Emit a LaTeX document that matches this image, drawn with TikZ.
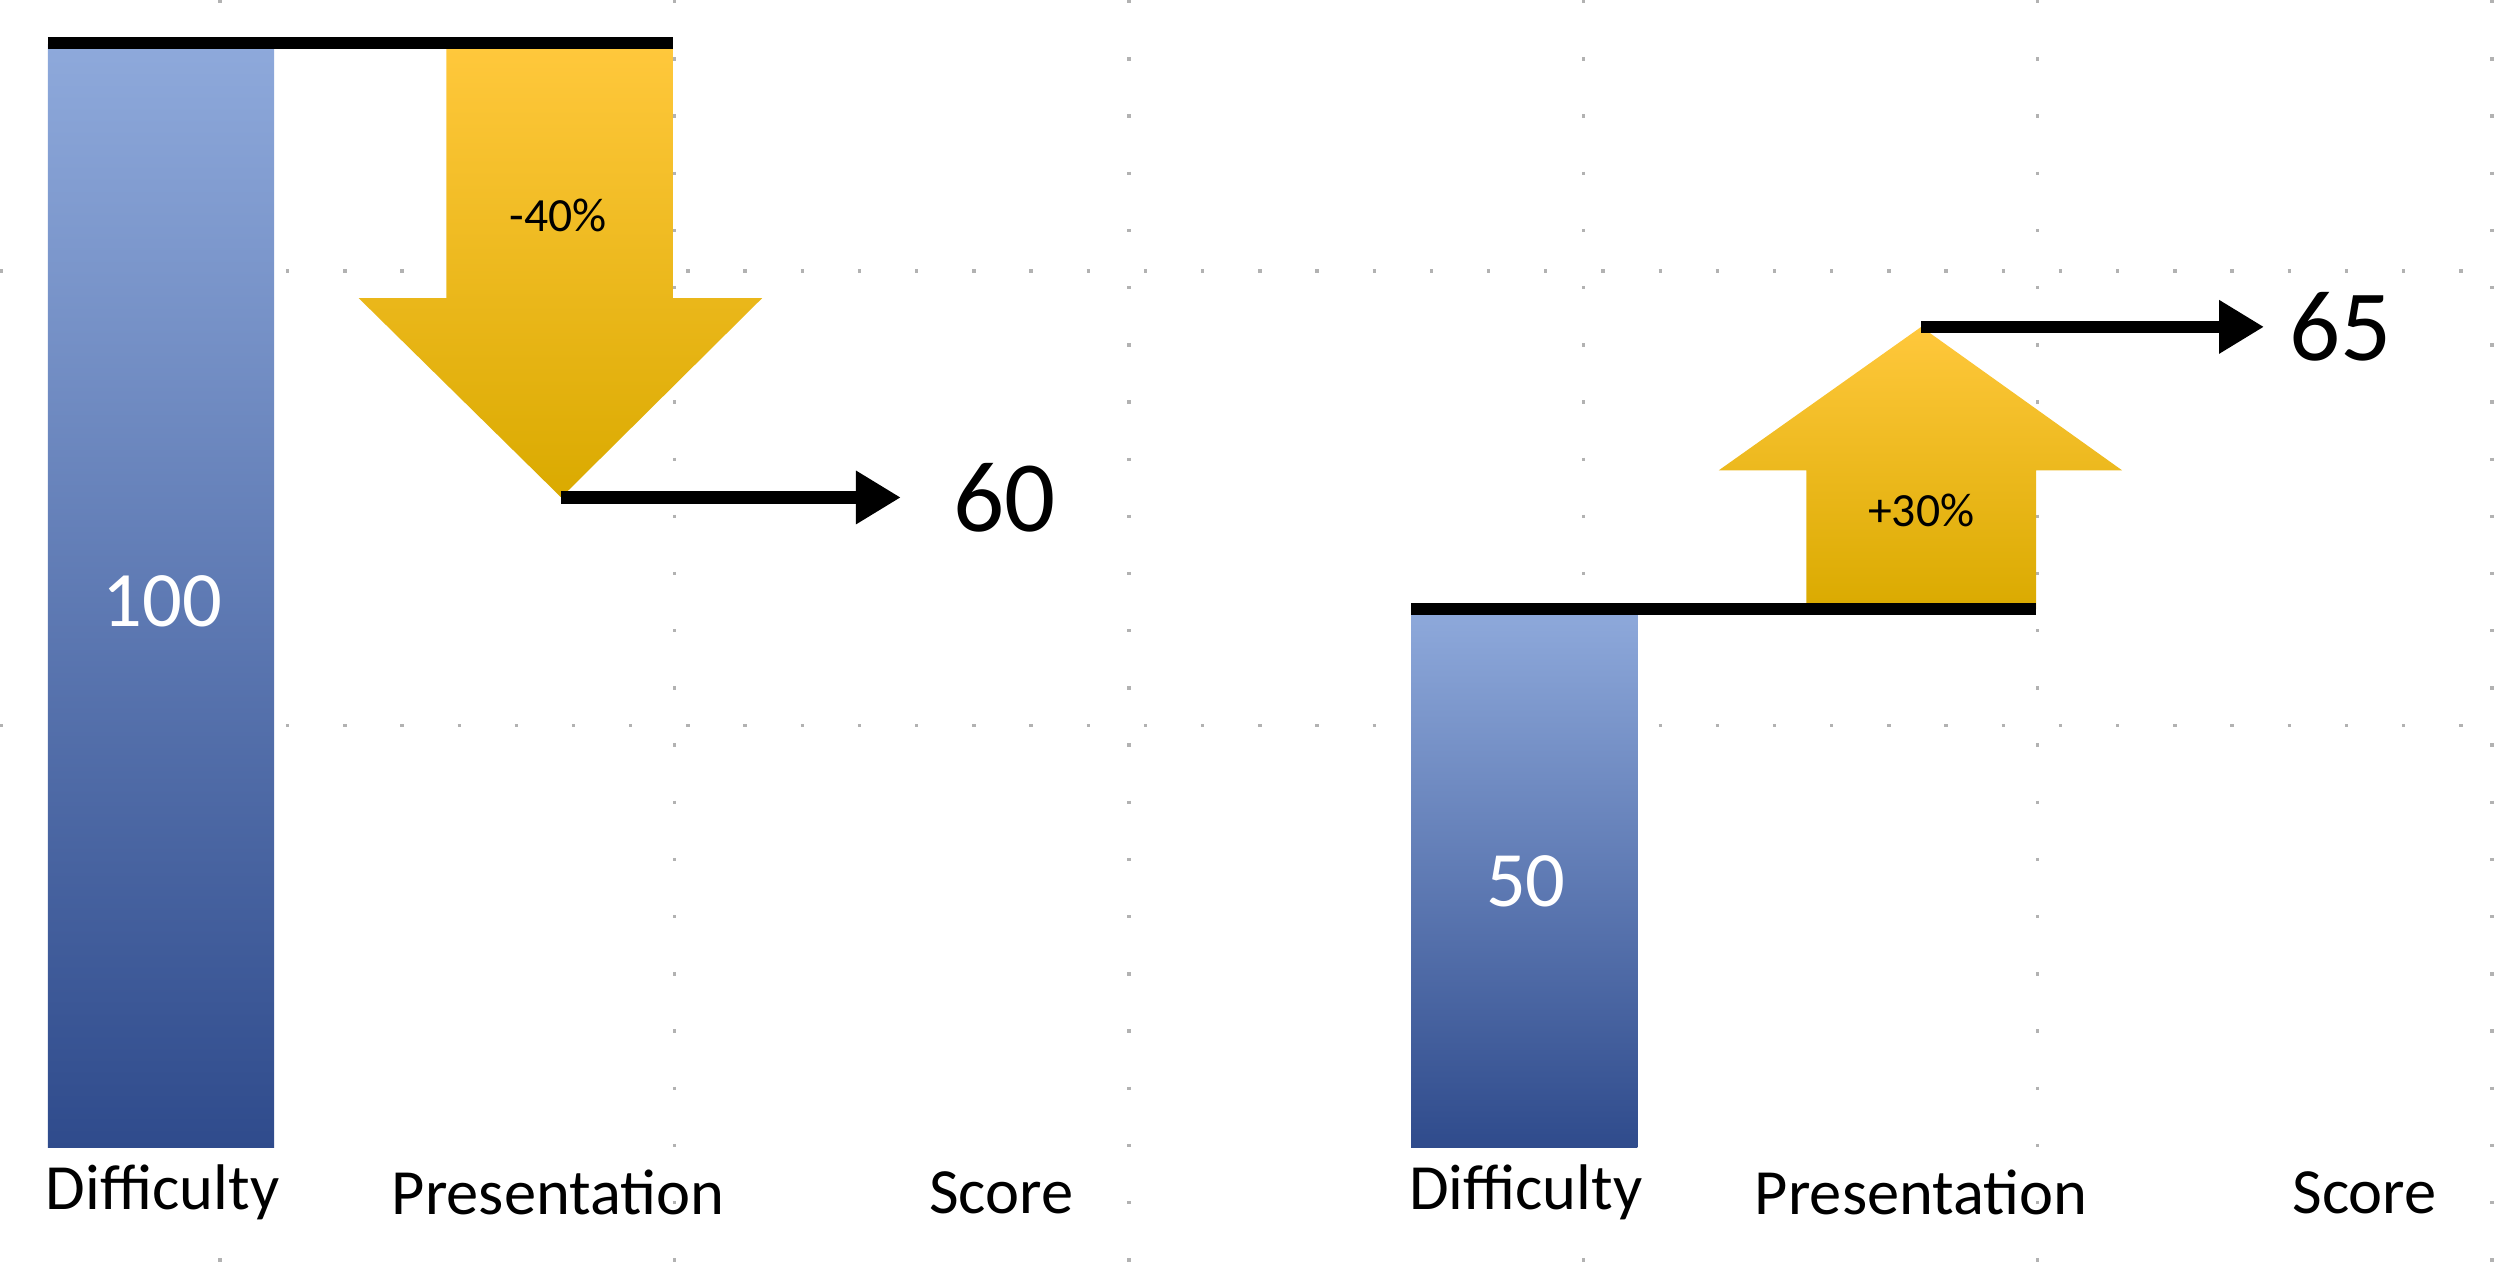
\documentclass[tikz,border=0pt]{standalone}
\usepackage{fontspec}
\setmainfont{Carlito}
\usetikzlibrary{arrows.meta}
\begin{document}
\begin{tikzpicture}[x=0.01cm,y=-0.01cm,
  grid/.style={gray!60,line width=0.6pt,dash pattern=on 0.6pt off 9.6pt},
  bluebar/.style={top color=blue!45!cyan!35!gray!70, bottom color=blue!60!black!70, shading angle=0},
  goldshape/.style={top color=yellow!80!orange, bottom color=yellow!70!orange!90!black},
  base/.style={line width=2.2pt,black},
  ptr/.style={line width=2.2pt,black,-{Triangle[length=8pt,width=9pt]}},
  axis/.style={font=\fontsize{11.5}{12}\selectfont},
  big/.style={font=\fontsize{18}{20}\selectfont},
  barlab/.style={font=\fontsize{14}{16}\selectfont,text=white},
  pct/.style={font=\fontsize{8.5}{10}\selectfont}]
\useasboundingbox (0,0) rectangle (1568,793);
\foreach \x in {138,423,708,993,1278,1563} \draw[grid] (\x,0) -- (\x,793);
\foreach \y in {170,455} \draw[grid] (0,\y) -- (1568,\y);
% left
\shade[top color={rgb,255:red,142;green,169;blue,219}, bottom color={rgb,255:red,47;green,75;blue,140}] (30,28) rectangle (172,720);
\shade[top color={rgb,255:red,255;green,200;blue,60}, bottom color={rgb,255:red,218;green,170;blue,0}] (280,28) -- (422,28) -- (422,187) -- (478,187) -- (352,312) -- (225,187) -- (280,187) -- cycle;
\draw[base] (30,27) -- (422,27);
\node[barlab] (v100) at (102,377) {100};
\node[pct] (m40) at (350,135) {-40\%};
\coordinate (tipL) at (352,312);
\coordinate (endL) at (565,312);
\draw[ptr] (tipL) -- (endL);
\node[big] (s60) at (630,312) {60};
\node[axis] (d1) at (102,748) {Difficulty};
\node[axis] (p1) at (350,748) {Presentation};
\node[axis] (sc1) at (628,748) {Score};
% right
\shade[top color={rgb,255:red,142;green,169;blue,219}, bottom color={rgb,255:red,47;green,75;blue,140}] (885,383) rectangle (1027,720);
\shade[top color={rgb,255:red,255;green,200;blue,60}, bottom color={rgb,255:red,218;green,170;blue,0}] (1205,205) -- (1331,295) -- (1277,295) -- (1277,382) -- (1133,382) -- (1133,295) -- (1078,295) -- cycle;
\draw[base] (885,382) -- (1277,382);
\node[barlab] (v50) at (957,553) {50};
\node[pct] (p30) at (1205,320) {+30\%};
\coordinate (tipR) at (1205,205);
\coordinate (endR) at (1420,205);
\draw[ptr] (tipR) -- (endR);
\node[big] (s65) at (1468,205) {65};
\node[axis] (d2) at (957,748) {Difficulty};
\node[axis] (p2) at (1205,748) {Presentation};
\node[axis] (sc2) at (1483,748) {Score};
\end{tikzpicture}
\end{document}
